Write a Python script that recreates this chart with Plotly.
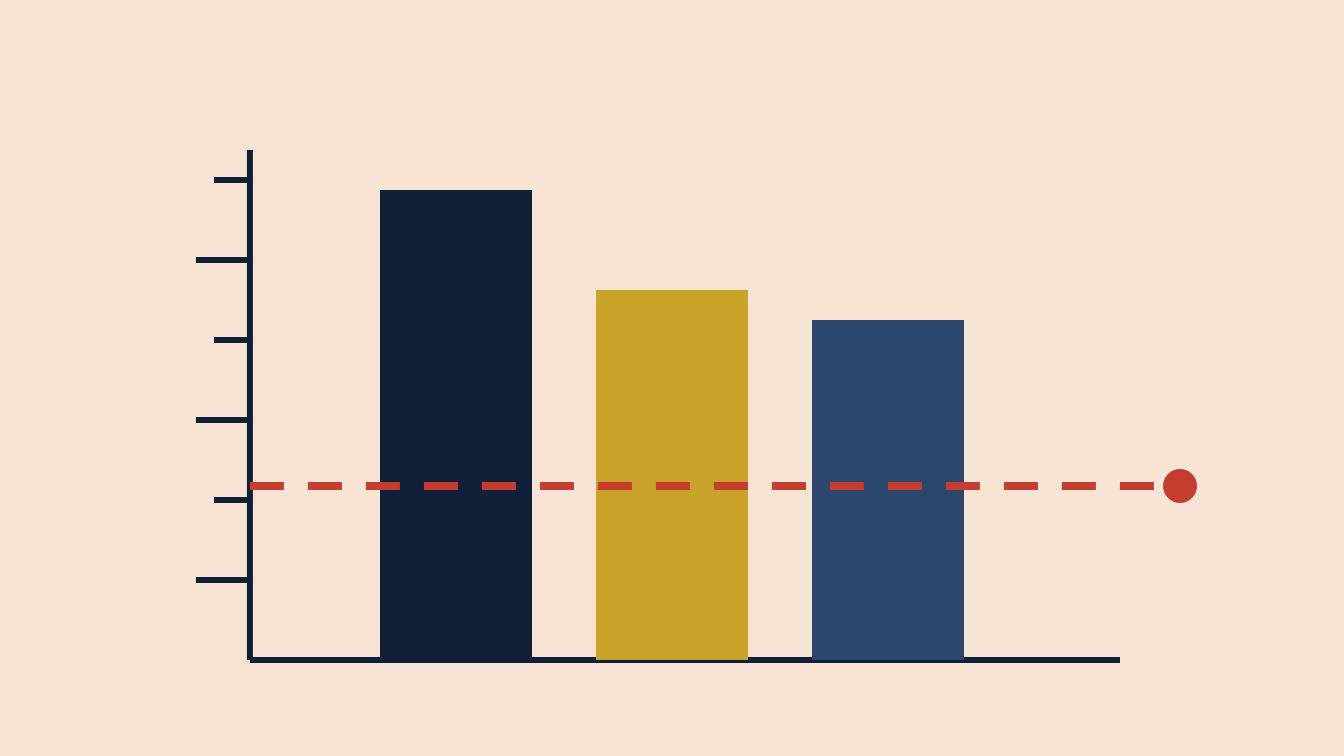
import plotly.graph_objects as go

# bar data (y in tick units, one tick = 1)
bar_x = [1, 2, 3]
bar_y = [5.875, 4.625, 4.25]
bar_colors = ["#112039", "#C9A229", "#2D466B"]

# reference level drawn as dashed line ending in a dot
ref_level = 2.175
ref_x = [0.046, 4.352]

# y axis ticks: (value, long?)
tick_vals = [1, 2, 3, 4, 5, 6]
tick_long = [True, False, True, False, True, False]
axis_top = 6.375
axis_x0 = 0.046
axis_x1 = 4.074

bg = "#F8E4D4"
ink = "#112039"
red = "#C43D2F"

fig = go.Figure()

fig.add_trace(go.Bar(
    x=bar_x, y=bar_y, width=0.7037,
    marker=dict(color=bar_colors, line=dict(width=0)),
    hoverinfo="skip",
))

fig.add_trace(go.Scatter(
    x=ref_x, y=[ref_level, ref_level], mode="lines",
    line=dict(color=red, width=8, dash="34px,24px"),
    hoverinfo="skip",
))
fig.add_trace(go.Scatter(
    x=[ref_x[1]], y=[ref_level], mode="markers",
    marker=dict(color=red, size=34, line=dict(width=0)),
    hoverinfo="skip",
))

shapes = [
    # vertical axis
    dict(type="line", x0=axis_x0, x1=axis_x0, y0=0, y1=axis_top,
         line=dict(color=ink, width=6), layer="below"),
    # horizontal axis
    dict(type="line", x0=axis_x0, x1=axis_x1, y0=0, y1=0,
         line=dict(color=ink, width=6), layer="below"),
]
for v, lng in zip(tick_vals, tick_long):
    ln = 0.25 if lng else 0.1667
    shapes.append(dict(type="line", x0=axis_x0 - ln, x1=axis_x0, y0=v, y1=v,
                       line=dict(color=ink, width=6), layer="below"))

fig.update_layout(
    width=1344, height=756,
    margin=dict(l=0, r=0, t=0, b=0),
    paper_bgcolor=bg, plot_bgcolor=bg,
    showlegend=False,
    shapes=shapes,
    xaxis=dict(range=[-1.1111, 5.1111], visible=False, fixedrange=True),
    yaxis=dict(range=[-1.2, 8.25], visible=False, fixedrange=True),
)

# drop the default body margin so the chart fills the window
fig.write_html("out.html", config={"displayModeBar": False},
               post_script="document.body.style.margin='0';document.body.style.background='%s';" % bg)
